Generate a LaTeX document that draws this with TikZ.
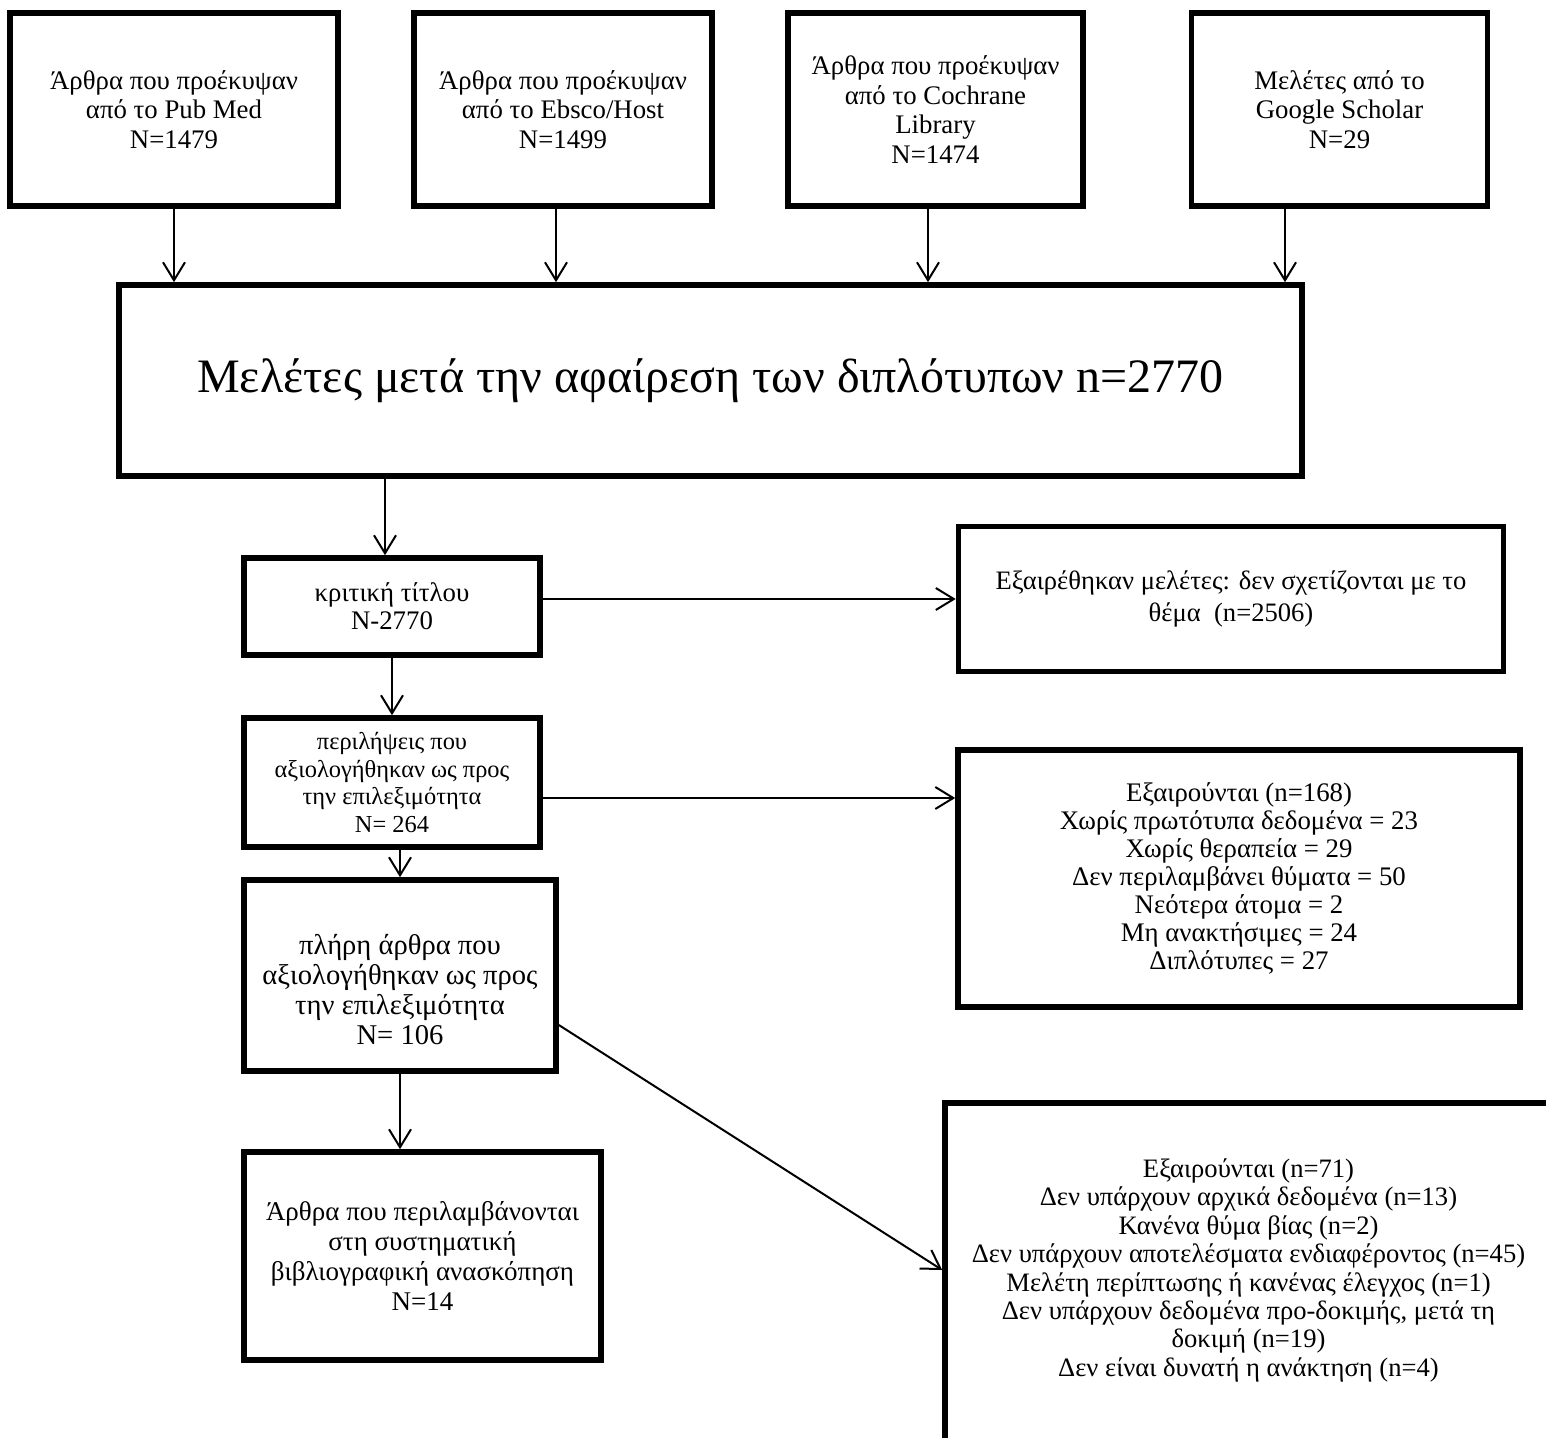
\documentclass[tikz,border=0pt]{standalone}
\usepackage{fontspec}
\setmainfont{Liberation Serif}
\usetikzlibrary{arrows.meta}

\begin{document}
\begin{tikzpicture}[x=0.5pt, y=-0.5pt,
    box/.style={draw, line width=2.8pt, align=center, inner sep=2pt},
    arr/.style={line width=1pt, -{Straight Barb[length=9pt,width=11pt]}}]
    \clip (0,0) rectangle (1546,1438);
    \fill[white] (0,0) rectangle (1546,1438);

    % the four sources
    \node[box, minimum width=164pt, minimum height=96.5pt, font=\fontsize{13.4}{14.8}\selectfont] (pubmed) at (174,109.5) {Άρθρα που προέκυψαν\\από το Pub Med\\N=1479};
    \node[box, minimum width=149pt, minimum height=96.5pt, font=\fontsize{13.4}{14.8}\selectfont] (ebsco) at (563,109.5) {Άρθρα που προέκυψαν\\από το Ebsco/Host\\N=1499};
    \node[box, minimum width=147.5pt, minimum height=96.5pt, font=\fontsize{13.4}{14.8}\selectfont] (cochrane) at (935.5,109.5) {Άρθρα που προέκυψαν\\από το Cochrane\\Library\\N=1474};
    \node[box, minimum width=148pt, minimum height=96.5pt, font=\fontsize{13.4}{14.8}\selectfont] (scholar) at (1339.5,109.5) {Μελέτες από το\\Google Scholar\\N=29};

    \node[box, minimum width=591.5pt, minimum height=95.5pt, font=\fontsize{24}{28}\selectfont] (dedup) at (710.5,380.5) {Μελέτες μετά την αφαίρεση των διπλότυπων n=2770};

    % screening steps
    \node[box, minimum width=148pt, minimum height=48.5pt, font=\fontsize{13.4}{14}\selectfont] (title) at (392,606.5) {κριτική τίτλου\\N-2770};
    \node[box, minimum width=148pt, minimum height=64.5pt, font=\fontsize{12.2}{13.7}\selectfont] (abstr) at (392,782.5) {περιλήψεις που\\αξιολογήθηκαν ως προς\\την επιλεξιμότητα\\N= 264};
    \node[box, minimum width=156pt, minimum height=95.5pt, font=\fontsize{14.3}{15}\selectfont] (fulltext) at (400,975.5) {\mbox{}\\[9pt]πλήρη άρθρα που\\αξιολογήθηκαν ως προς\\την επιλεξιμότητα\\N= 106};
    \node[box, minimum width=178.5pt, minimum height=104pt, font=\fontsize{13.5}{15}\selectfont] (included) at (422.5,1256) {Άρθρα που περιλαμβάνονται\\στη συστηματική\\βιβλιογραφική ανασκόπηση\\N=14};

    % exclusions
    \node[box, minimum width=272.5pt, minimum height=72.5pt, font=\fontsize{13.3}{16}\selectfont] (excl1) at (1231,599) {Εξαιρέθηκαν μελέτες: δεν σχετίζονται με το\\θέμα~ (n=2506)};
    \node[box, minimum width=281pt, minimum height=128.5pt, font=\fontsize{13.4}{14}\selectfont] (excl2) at (1239,878.5) {Εξαιρούνται (n=168)\\Χωρίς πρωτότυπα δεδομένα = 23\\Χωρίς θεραπεία = 29\\Δεν περιλαμβάνει θύματα = 50\\Νεότερα άτομα = 2\\Μη ανακτήσιμες = 24\\Διπλότυπες = 27};
    \node[box, minimum width=303.5pt, minimum height=193pt, font=\fontsize{13.3}{14.2}\selectfont] (excl3) at (1248.5,1296) {Εξαιρούνται (n=71)\\Δεν υπάρχουν αρχικά δεδομένα (n=13)\\Κανένα θύμα βίας (n=2)\\Δεν υπάρχουν αποτελέσματα ενδιαφέροντος (n=45)\\Μελέτη περίπτωσης ή κανένας έλεγχος (n=1)\\Δεν υπάρχουν δεδομένα προ-δοκιμής, μετά τη\\δοκιμή (n=19)\\Δεν είναι δυνατή η ανάκτηση (n=4)\\\mbox{}\\\mbox{}};

    % arrows
    \draw[arr] (pubmed.south) -- (pubmed.south |- dedup.north);
    \draw[arr] (ebsco.south -| 556,0) -- (dedup.north -| 556,0);
    \draw[arr] (cochrane.south -| 928,0) -- (dedup.north -| 928,0);
    \draw[arr] (scholar.south -| 1285,0) -- (dedup.north -| 1285,0);
    \draw[arr] (dedup.south -| 385,0) -- (title.north -| 385,0);
    \draw[arr] (title.east |- excl1.west) -- (excl1.west);
    \draw[arr] (title.south) -- (abstr.north);
    \draw[arr] (abstr.east |- 0,798) -- (excl2.west |- 0,798);
    \draw[arr] (fulltext.north |- abstr.south) -- (fulltext.north);
    \draw[arr] (fulltext.south) -- (fulltext.south |- included.north);
    \draw[arr] (fulltext.east |- 0,1025) -- (excl3.west |- 0,1270);
\end{tikzpicture}
\end{document}
